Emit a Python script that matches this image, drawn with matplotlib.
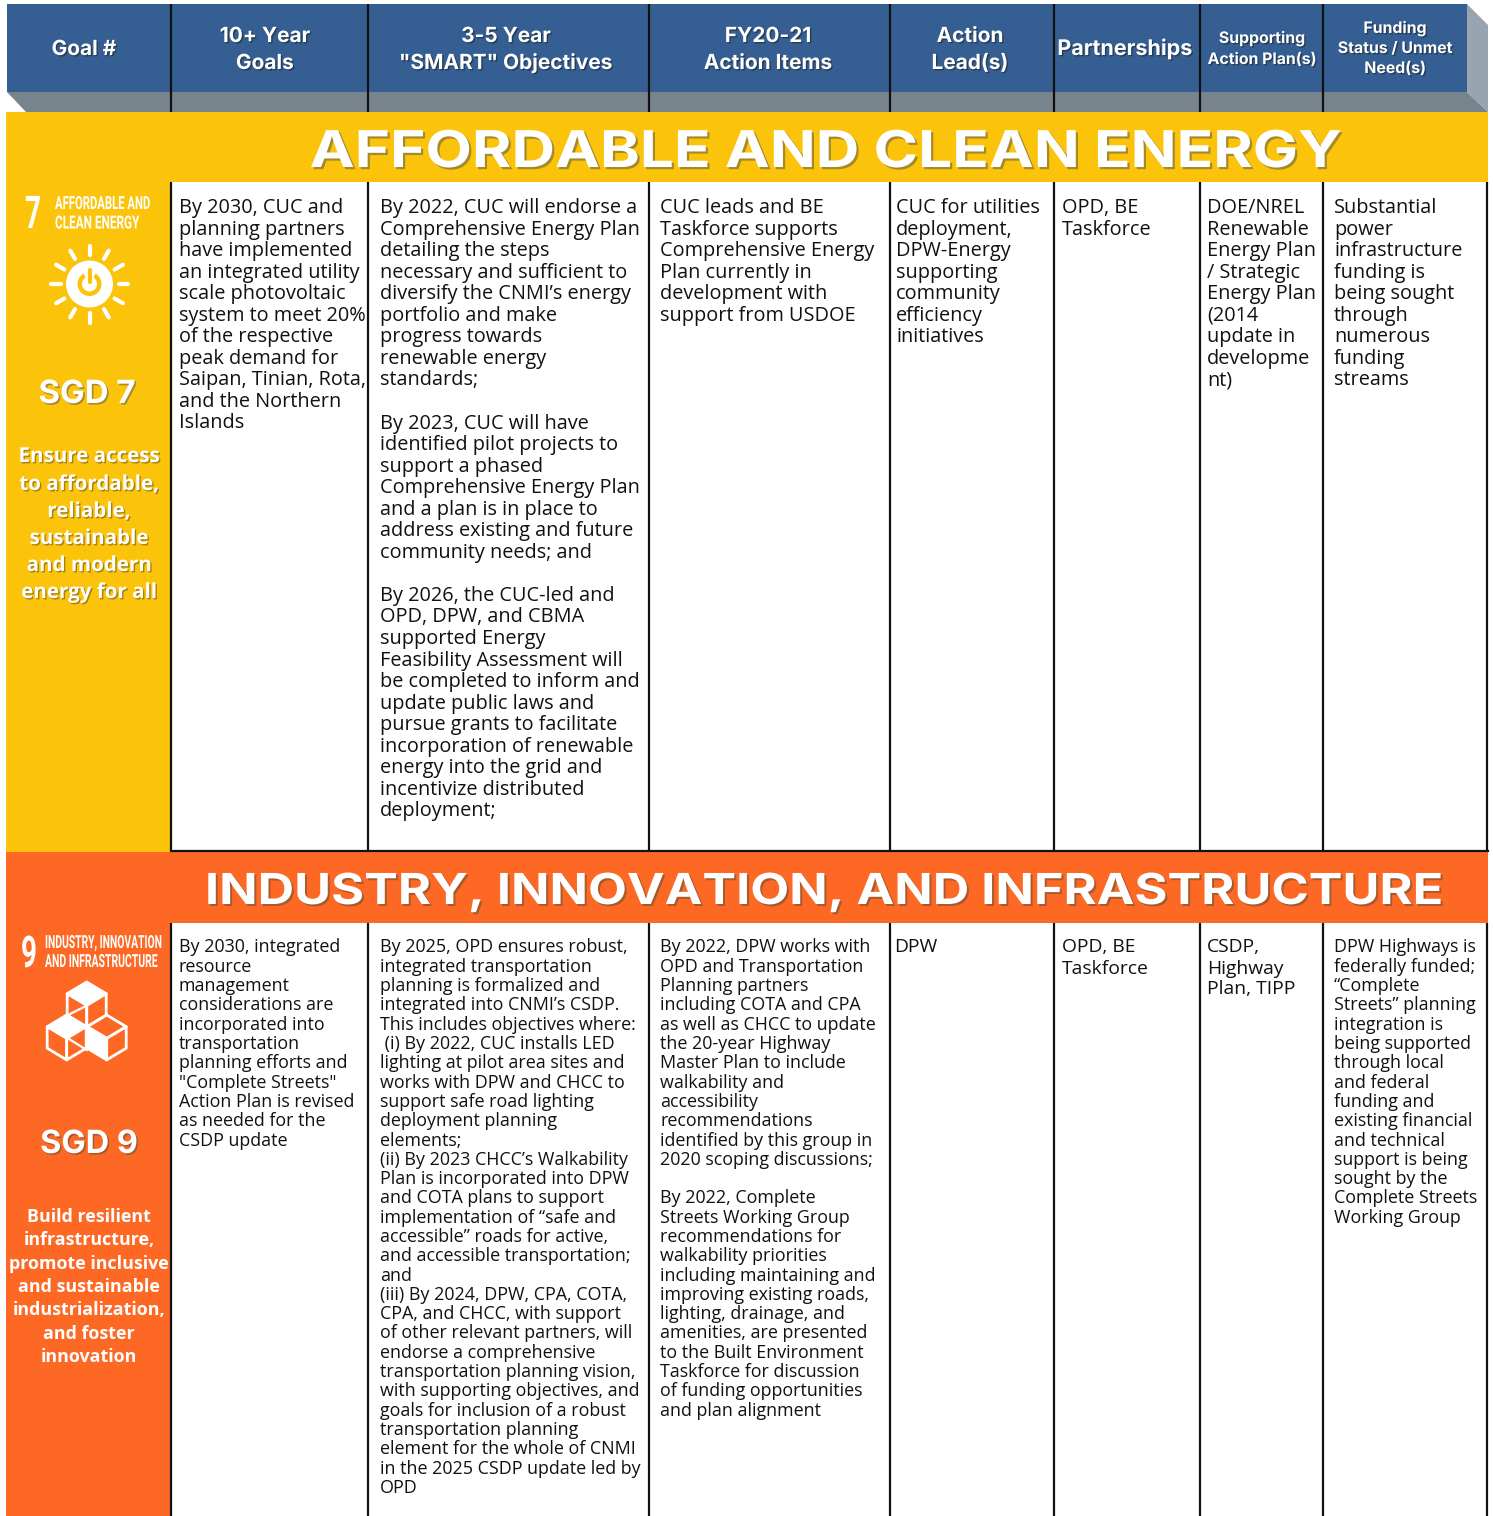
import matplotlib
matplotlib.use("Agg")
import matplotlib.pyplot as plt
from matplotlib.patches import Rectangle, Polygon, Circle, Wedge
from matplotlib.transforms import Affine2D
import matplotlib.patheffects as pe
from matplotlib.colors import to_rgb
import numpy as np

# ---------- data ----------
col_edges = [171, 368, 649, 890, 1054, 1200, 1323, 1487]
header_labels = [
    (["Goal #"], 84, [55], 15.0),
    (["10+ Year", "Goals"], 265, [42, 69], 15.0),
    (["3-5 Year", '"SMART" Objectives'], 506, [42, 69], 15.0),
    (["FY20-21", "Action Items"], 768, [42, 69], 15.0),
    (["Action", "Lead(s)"], 970, [42, 69], 15.0),
    (["Partnerships"], 1125, [55], 15.5),
    (["Supporting", "Action Plan(s)"], 1262, [43, 64], 11.4),
    (["Funding", "Status / Unmet", "Need(s)"], 1395, [33, 53, 73], 11.4),
]
titles = ["AFFORDABLE AND CLEAN ENERGY", "INDUSTRY, INNOVATION, AND INFRASTRUCTURE"]

row1_cells = [
    ["By 2030, CUC and", "planning partners", "have implemented", "an integrated utility",
     "scale photovoltaic", "system to meet 20%", "of the respective", "peak demand for",
     "Saipan, Tinian, Rota,", "and the Northern", "Islands"],
    ["By 2022, CUC will endorse a", "Comprehensive Energy Plan", "detailing the steps",
     "necessary and sufficient to", "diversify the CNMI\u2019s energy", "portfolio and make",
     "progress towards", "renewable energy", "standards;", "",
     "By 2023, CUC will have", "identified pilot projects to", "support a phased",
     "Comprehensive Energy Plan", "and a plan is in place to", "address existing and future",
     "community needs; and", "",
     "By 2026, the CUC-led and", "OPD, DPW, and CBMA", "supported Energy",
     "Feasibility Assessment will", "be completed to inform and", "update public laws and",
     "pursue grants to facilitate", "incorporation of renewable", "energy into the grid and",
     "incentivize distributed", "deployment;"],
    ["CUC leads and BE", "Taskforce supports", "Comprehensive Energy", "Plan currently in",
     "development with", "support from USDOE"],
    ["CUC for utilities", "deployment,", "DPW-Energy", "supporting", "community", "efficiency",
     "initiatives"],
    ["OPD, BE", "Taskforce"],
    ["DOE/NREL", "Renewable", "Energy Plan", "/ Strategic", "Energy Plan", "(2014",
     "update in", "developme", "nt)"],
    ["Substantial", "power", "infrastructure", "funding is", "being sought", "through",
     "numerous", "funding", "streams"],
]
row2_cells = [
    ["By 2030, integrated", "resource", "management", "considerations are", "incorporated into",
     "transportation", "planning efforts and", '"Complete Streets"', "Action Plan is revised",
     "as needed for the", "CSDP update"],
    ["By 2025, OPD ensures robust,", "integrated transportation", "planning is formalized and",
     "integrated into CNMI\u2019s CSDP.", "This includes objectives where:",
     " (i) By 2022, CUC installs LED", "lighting at pilot area sites and",
     "works with DPW and CHCC to", "support safe road lighting", "deployment planning",
     "elements;", "(ii) By 2023 CHCC\u2019s Walkability", "Plan is incorporated into DPW",
     "and COTA plans to support", "implementation of \u201csafe and",
     "accessible\u201d roads for active,", "and accessible transportation;", "and",
     "(iii) By 2024, DPW, CPA, COTA,", "CPA, and CHCC, with support", "of other relevant partners, will",
     "endorse a comprehensive", "transportation planning vision,", "with supporting objectives, and",
     "goals for inclusion of a robust", "transportation planning", "element for the whole of CNMI",
     "in the 2025 CSDP update led by", "OPD"],
    ["By 2022, DPW works with", "OPD and Transportation", "Planning partners",
     "including COTA and CPA", "as well as CHCC to update", "the 20-year Highway",
     "Master Plan to include", "walkability and", "accessibility", "recommendations",
     "identified by this group in", "2020 scoping discussions;", "",
     "By 2022, Complete", "Streets Working Group", "recommendations for", "walkability priorities",
     "including maintaining and", "improving existing roads,", "lighting, drainage, and",
     "amenities, are presented", "to the Built Environment", "Taskforce for discussion",
     "of funding opportunities", "and plan alignment"],
    ["DPW"],
    ["OPD, BE", "Taskforce"],
    ["CSDP,", "Highway", "Plan, TIPP"],
    ["DPW Highways is", "federally funded;", "\u201cComplete", "Streets\u201d planning",
     "integration is", "being supported", "through local", "and federal", "funding and",
     "existing financial", "and technical", "support is being", "sought by the",
     "Complete Streets", "Working Group"],
]
row1_x = [179, 380, 660, 896, 1062, 1207, 1334]
row2_x = [179, 380, 660, 894, 1062, 1207, 1334]
row2_fs = [12.85, 12.85, 12.85, 13.9, 13.9, 13.9, 12.85]
row2_pitch = [19.3, 19.3, 19.3, 21.0, 21.0, 21.0, 19.3]

goal1_desc = ["Ensure access", "to affordable,", "reliable,", "sustainable", "and modern", "energy for all"]
goal2_desc = ["Build resilient", "infrastructure,", "promote inclusive", "and sustainable",
              "industrialization,", "and foster", "innovation"]
goal1_y = [462, 490, 517, 544, 571, 598]
goal2_y = [1222, 1245, 1269, 1292, 1315, 1339, 1362]

BLUE, GREY, SIDE = "#355f93", "#78848c", "#98a4b0"
YEL, ORG = "#fcc30b", "#fd6925"
BODY = ["Open Sans", "DejaVu Sans"]
HEAD = ["Inter", "DejaVu Sans"]
NARROW = ["Roboto", "DejaVu Sans"]
H = 1516

fig = plt.figure(figsize=(14.93, 15.16), dpi=100)
ax = fig.add_axes([0, 0, 1, 1])
ax.set_xlim(0, 1493)
ax.set_ylim(H, 0)
ax.axis("off")
rend = fig.canvas.get_renderer()


class Stretch(pe.AbstractPathEffect):
    """Scale glyph outlines about (x0, y0) in display space, with an optional drop shadow."""

    def __init__(self, sx, sy, x0, y0, shadow=None, d=0):
        super().__init__()
        self.sx, self.sy, self.x0, self.y0, self.shadow, self.d = sx, sy, x0, y0, shadow, d

    def draw_path(self, renderer, gc, tpath, affine, rgbFace=None):
        t = affine + (Affine2D().translate(-self.x0, -self.y0)
                      .scale(self.sx, self.sy).translate(self.x0, self.y0))
        if self.shadow is not None:
            renderer.draw_path(gc, tpath, t + Affine2D().translate(self.d, -self.d), to_rgb(self.shadow))
        renderer.draw_path(gc, tpath, t, rgbFace)


def fit_text(x, y, s, width, fontsize, family, ha="left", shadow=None, d=0):
    """Real text set to a pixel width: the font size fits the width, glyphs keep the intended height."""
    t = ax.text(x, y, s, ha=ha, va="baseline", color="white", weight="bold",
                fontsize=fontsize, family=family)
    k = width / t.get_window_extent(rend).width
    t.set_fontsize(fontsize * k)
    t.set_path_effects([Stretch(1.0, 1.0 / k, x, H - y, shadow, d)])
    return t


def shadow(color, d=1.5):
    return [pe.SimplePatchShadow(offset=(d, -d), shadow_rgbFace=color, alpha=0.75), pe.Normal()]


# ---------- header ----------
ax.add_patch(Polygon([(7, 92), (1467, 92), (1488, 112), (26, 112)], fc=GREY, ec="none"))
ax.add_patch(Polygon([(1467, 4), (1488, 25), (1488, 112), (1467, 92)], fc=SIDE, ec="none"))
ax.add_patch(Rectangle((7, 4), 1460, 88, fc=BLUE, ec="none"))

# ---------- bands and cells ----------
ax.add_patch(Rectangle((6, 112), 1482, 70, fc=YEL, ec="none"))
ax.add_patch(Rectangle((6, 182), 164, 670, fc=YEL, ec="none"))
ax.add_patch(Rectangle((6, 852), 1482, 71, fc=ORG, ec="none"))
ax.add_patch(Rectangle((6, 923), 164, 593, fc=ORG, ec="none"))

for x in col_edges[:-1]:
    ax.plot([x, x], [4, 112], color="#111111", lw=1.6, solid_capstyle="butt")
for x in col_edges:
    ax.plot([x, x], [182, 851], color="#111111", lw=1.6, solid_capstyle="butt")
    ax.plot([x, x], [923, H], color="#111111", lw=1.6, solid_capstyle="butt")
ax.plot([171, 1488], [851, 851], color="#111111", lw=1.6)

for lines, x, ys, fs in header_labels:
    for s, y in zip(lines, ys):
        ax.text(x, y, s, ha="center", va="baseline", color="white", fontsize=fs,
                family=HEAD, weight="bold", path_effects=shadow("#22303f", 1))

fit_text(826, 167, titles[0], 1033, 36.5, HEAD, ha="center", shadow="#a58a2a", d=2.2)
fit_text(825, 904, titles[1], 1236, 30.7, HEAD, ha="center", shadow="#a85a2c", d=2.0)

# ---------- body ----------
for lines, x in zip(row1_cells, row1_x):
    for i, s in enumerate(lines):
        ax.text(x, 213 + i * 21.55, s, ha="left", va="baseline", fontsize=14.3,
                family=BODY, color="#111111")
for lines, x, fs, p in zip(row2_cells, row2_x, row2_fs, row2_pitch):
    for i, s in enumerate(lines):
        ax.text(x, 952.5 + i * p, s, ha="left", va="baseline", fontsize=fs,
                family=BODY, color="#111111")

# ---------- goal 7 sidebar ----------
fit_text(25, 228, "7", 16, 32.5, NARROW)
fit_text(55, 209, "AFFORDABLE AND", 95, 13, NARROW)
fit_text(55, 228.5, "CLEAN ENERGY", 84, 13, NARROW)

cx, cy = 89.5, 284
for a in np.arange(0, 360, 30):
    c, s = np.cos(np.radians(a)), np.sin(np.radians(a))
    ax.plot([cx + 29 * c, cx + 38.5 * c], [cy + 29 * s, cy + 38.5 * s], color="white", lw=3, solid_capstyle="round")
ax.add_patch(Circle((cx, cy), 23.5, fc="white", ec="none"))
ax.add_patch(Wedge((cx, cy), 12, -60, 240, width=4.5, fc=YEL, ec="none"))
ax.plot([cx, cx], [cy - 15, cy - 1], color="white", lw=5.5, solid_capstyle="butt")
ax.plot([cx, cx], [cy - 14, cy - 2], color=YEL, lw=3, solid_capstyle="round")

fit_text(87, 403, "SGD 7", 97, 23, HEAD, ha="center", shadow="#a58a2a", d=1.6)
for s, y in zip(goal1_desc, goal1_y):
    ax.text(89, y, s, ha="center", va="baseline", color="white", fontsize=14.8, family=BODY,
            weight="bold", path_effects=shadow("#8a6d10", 1))

# ---------- goal 9 sidebar ----------
fit_text(21, 967, "9", 16, 31.5, NARROW)
fit_text(45, 948, "INDUSTRY, INNOVATION", 116, 13, NARROW)
fit_text(45, 967, "AND INFRASTRUCTURE", 112, 13, NARROW)


def cube(x, y, w=19.5, h=11.7, v=21.5, fill_top=False, fill_left=False):
    top = [(x, y), (x + w, y + h), (x, y + 2 * h), (x - w, y + h)]
    left = [(x - w, y + h), (x, y + 2 * h), (x, y + 2 * h + v), (x - w, y + h + v)]
    right = [(x + w, y + h), (x, y + 2 * h), (x, y + 2 * h + v), (x + w, y + h + v)]
    ax.add_patch(Polygon(top, closed=True, fc="white" if fill_top else ORG, ec="white", lw=2, joinstyle="round"))
    ax.add_patch(Polygon(left, closed=True, fc="white" if fill_left else ORG, ec="white", lw=2, joinstyle="round"))
    ax.add_patch(Polygon(right, closed=True, fc=ORG, ec="white", lw=2, joinstyle="round"))


cube(86.7, 982, fill_top=True)
cube(66.7, 1015, fill_top=True)
cube(106.7, 1015, fill_left=True)
ax.plot([69, 86.7], [1039, 1050], color="white", lw=1.6)
ax.plot([70, 86.7], [1014, 1005.7], color="white", lw=1.6)
ax.plot([86.7, 86.7], [1005, 1027], color="white", lw=1.6)

fit_text(89, 1153, "SGD 9", 98, 23, HEAD, ha="center", shadow="#a85a2c", d=1.6)
for s, y in zip(goal2_desc, goal2_y):
    ax.text(89, y, s, ha="center", va="baseline", color="white", fontsize=12.85, family=BODY, weight="bold")

fig.savefig("out.png", dpi=100, facecolor="white")
